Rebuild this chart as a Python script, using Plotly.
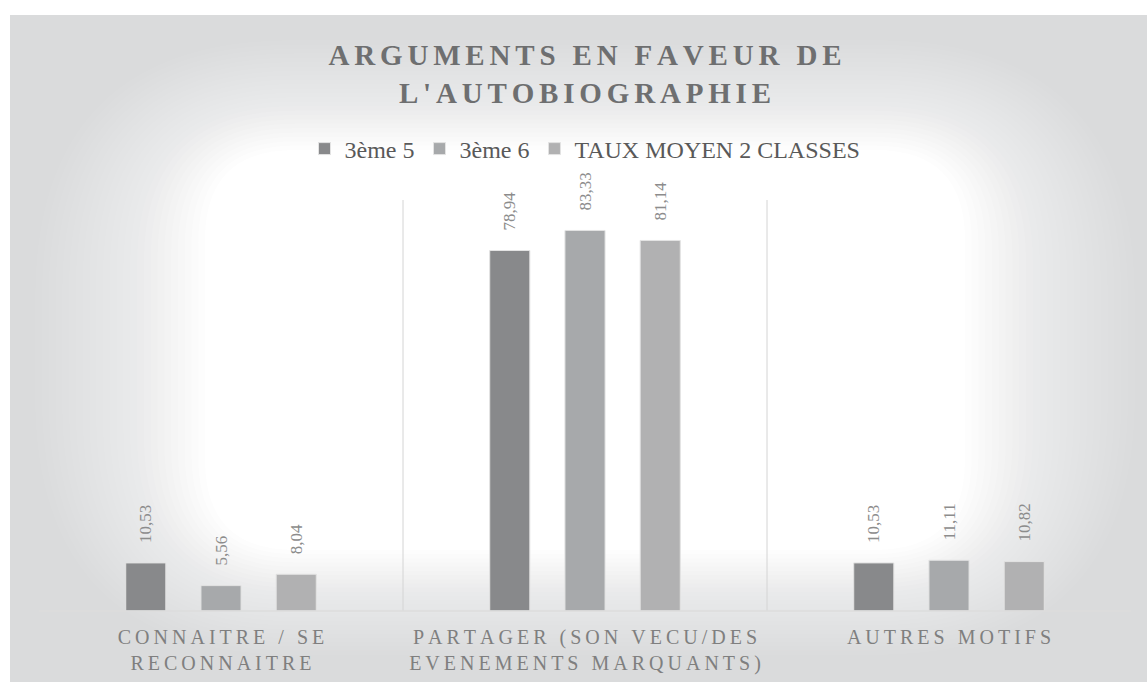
import plotly.graph_objects as go

categories = ["CONNAITRE / SE<br>RECONNAITRE",
              "PARTAGER (SON VECU/DES<br>EVENEMENTS MARQUANTS)",
              "AUTRES MOTIFS"]
series_names = ["3ème 5", "3ème 6", "TAUX MOYEN 2 CLASSES"]
values_3e5 = [10.53, 78.94, 10.53]
values_3e6 = [5.56, 83.33, 11.11]
values_moy = [8.04, 81.14, 10.82]
colors = ["#88898b", "#a7a9ab", "#b1b1b2"]

W, H = 1147, 682
ML, MR, MT, MB = 39, 16, 200, 71
PW, PH = W - ML - MR, H - MT - MB


def spaced(s, sp="\u200a"):
    # fake letter spacing, line by line
    return "<br>".join(sp.join(list(line)) for line in s.split("<br>"))


def px(x):
    return (x - ML) / PW


def py(y):
    return (H - MB - y) / PH


def rrect(x0, y0, x1, y1, r):
    # rounded rectangle in pixel coords -> svg path in paper coords
    def p(x, y):
        return f"{px(x):.5f},{py(y):.5f}"
    return (f"M{p(x0 + r, y0)} L{p(x1 - r, y0)} Q{p(x1, y0)} {p(x1, y0 + r)} "
            f"L{p(x1, y1 - r)} Q{p(x1, y1)} {p(x1 - r, y1)} "
            f"L{p(x0 + r, y1)} Q{p(x0, y1)} {p(x0, y1 - r)} "
            f"L{p(x0, y0 + r)} Q{p(x0, y0)} {p(x0 + r, y0)} Z")


fig = go.Figure()
for name, vals, col in zip(series_names, [values_3e5, values_3e6, values_moy], colors):
    fig.add_trace(go.Bar(
        name=name,
        x=categories,
        y=vals,
        marker=dict(color=col, line=dict(color="#e3e3e3", width=1)),
        text=["\u00a0" * 4 + f"{v:.2f}".replace(".", ",") for v in vals],
        textposition="outside",
        textangle=-90,
        constraintext="none",
        textfont=dict(family="Liberation Serif", size=17, color="#8c8c8c"),
        cliponaxis=False,
    ))

# background: grey card with a soft white glow in the middle
shapes = [dict(type="rect", xref="paper", yref="paper", layer="below",
               x0=px(10), x1=px(W), y0=py(H), y1=py(15),
               fillcolor="#dadbdc", line=dict(width=0))]
n = 26
outer = (35, 40, 1135, 655, 260)
inner = (205, 150, 965, 550, 90)
for i in range(n):
    t = i / (n - 1)
    b = [o + (q - o) * t for o, q in zip(outer, inner)]
    # opacities chosen so the white builds up linearly towards the centre
    shapes.append(dict(type="path", xref="paper", yref="paper", layer="below",
                       path=rrect(*b), fillcolor="white", opacity=1 / (n - i),
                       line=dict(width=0)))
# dividers between categories and baseline
for xb in [0.5, 1.5]:
    shapes.append(dict(type="line", xref="x", yref="paper", x0=xb, x1=xb, y0=0, y1=1,
                       line=dict(color="#d4d4d4", width=1)))
shapes.append(dict(type="line", xref="paper", yref="paper", x0=0, x1=1, y0=0, y1=0,
                   line=dict(color="#dcdcdc", width=1.5)))

fig.update_layout(
    width=W, height=H,
    margin=dict(l=ML, r=MR, t=MT, b=MB, autoexpand=False),
    paper_bgcolor="white",
    plot_bgcolor="rgba(0,0,0,0)",
    shapes=shapes,
    barmode="group",
    bargap=0.38,
    bargroupgap=0.467,
    title=dict(text="<b>" + spaced("ARGUMENTS EN FAVEUR DE<br>L'AUTOBIOGRAPHIE", "\u2006") + "</b>",
               xref="paper", x=0.5, xanchor="center", y=1 - 65 / H, yanchor="middle",
               font=dict(family="Liberation Serif", size=29, color="#6e6f70")),
    legend=dict(orientation="h", x=0.5, xanchor="center", y=py(149), yanchor="middle",
                font=dict(family="Liberation Serif", size=24, color="#595959"),
                bgcolor="rgba(0,0,0,0)", traceorder="normal"),
    xaxis=dict(tickmode="array", tickvals=categories,
               ticktext=[spaced(c, "\u2009") for c in categories],
               tickfont=dict(family="Liberation Serif", size=20, color="#7f7f7f"),
               ticklabelstandoff=12, automargin=False,
               showgrid=False, zeroline=False, showline=False, ticks=""),
    yaxis=dict(range=[0, 90], visible=False, showgrid=False, zeroline=False,
               automargin=False),
)

fig.write_html("out.html", config={"displayModeBar": False},
               post_script="document.body.style.margin='0';")
